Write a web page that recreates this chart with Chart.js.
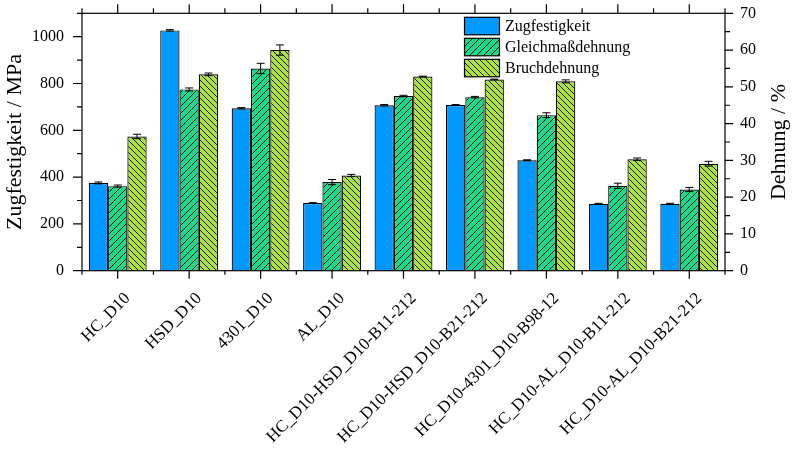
<!DOCTYPE html>
<html>
<head>
<meta charset="utf-8">
<script src="https://cdn.jsdelivr.net/npm/chart.js@4"></script>
<style>
  html, body { margin: 0; padding: 0; background: #fff; }
</style>
</head>
<body>
<canvas id="c" width="792" height="449"></canvas>
<script>
// Samples (x axis categories)
const categories = [
  'HC_D10', 'HSD_D10', '4301_D10', 'AL_D10',
  'HC_D10-HSD_D10-B11-212', 'HC_D10-HSD_D10-B21-212',
  'HC_D10-4301_D10-B98-12', 'HC_D10-AL_D10-B11-212', 'HC_D10-AL_D10-B21-212'
];

// Tensile strength in MPa (left axis) and its standard deviation
const zugfestigkeit = [375, 1027, 694, 289, 707, 708, 472, 286, 286];
const zugfestigkeitErr = [4, 3, 3, 2, 3, 2, 2, 2, 2];

// Uniform elongation in % (right axis)
const gleichmassdehnung = [23.0, 49.3, 55.0, 24.1, 47.5, 47.2, 42.3, 23.1, 22.1];
const gleichmassdehnungErr = [0.3, 0.4, 1.4, 0.7, 0.2, 0.2, 0.65, 0.7, 0.55];

// Elongation at break in % (right axis)
const bruchdehnung = [36.5, 53.4, 60.0, 25.9, 52.8, 52.0, 51.5, 30.3, 29.1];
const bruchdehnungErr = [0.6, 0.35, 1.4, 0.3, 0.1, 0.1, 0.4, 0.35, 0.65];

// Axis tick values
const leftTicks = [0, 200, 400, 600, 800, 1000];
const rightTicks = [0, 10, 20, 30, 40, 50, 60, 70];

const errorBars = [zugfestigkeitErr, gleichmassdehnungErr, bruchdehnungErr];

const FONT = "'Liberation Serif', 'Times New Roman', serif";
const canvas = document.getElementById('c');
const ctx = canvas.getContext('2d');

// Diagonal hatch fill: dir > 0 gives '/', otherwise '\'
function hatch(color, dir, period) {
  const c = document.createElement('canvas');
  c.width = period; c.height = period;
  const g = c.getContext('2d');
  g.fillStyle = color;
  g.fillRect(0, 0, period, period);
  g.strokeStyle = '#111';
  g.lineWidth = 1;
  g.beginPath();
  for (const o of [-period, 0, period]) {
    if (dir > 0) { g.moveTo(o, period); g.lineTo(o + period, 0); }
    else { g.moveTo(o, 0); g.lineTo(o + period, period); }
  }
  g.stroke();
  return ctx.createPattern(c, 'repeat');
}

const BLUE = '#0099FF';
const GREEN = hatch('#1BD98B', 1, 7);
const LIME = hatch('#AEE33A', -1, 6);

// Error bars on top of every bar
const errorBarPlugin = {
  id: 'errorBars',
  afterDatasetsDraw(chart) {
    const c = chart.ctx;
    c.save();
    c.strokeStyle = '#000';
    c.lineWidth = 1;
    chart.data.datasets.forEach((ds, di) => {
      const meta = chart.getDatasetMeta(di);
      const scale = chart.scales[ds.yAxisID];
      meta.data.forEach((bar, i) => {
        const v = ds.data[i], e = errorBars[di][i];
        const yHi = scale.getPixelForValue(v + e);
        const yLo = scale.getPixelForValue(v - e);
        const x = bar.x;
        c.beginPath();
        c.moveTo(x, yHi); c.lineTo(x, yLo);
        c.moveTo(x - 4, yHi); c.lineTo(x + 4, yHi);
        c.moveTo(x - 4, yLo); c.lineTo(x + 4, yLo);
        c.stroke();
      });
    });
    c.restore();
  }
};

// Closed frame with outward tick marks on all four sides, legend and right title
const framePlugin = {
  id: 'frame',
  afterDraw(chart) {
    const c = chart.ctx;
    const { left, right, top, bottom } = chart.chartArea;
    const { x, y, y1 } = chart.scales;
    c.save();
    c.strokeStyle = '#000';
    c.lineWidth = 1.2;
    c.strokeRect(left, top, right - left, bottom - top);
    c.beginPath();
    for (let v = y.min; v <= y.max; v += 100) {
      const py = y.getPixelForValue(v);
      const len = v % 200 === 0 ? 9 : 5;
      c.moveTo(left, py); c.lineTo(left - len, py);
    }
    for (let v = y1.min; v <= y1.max; v += 5) {
      const py = y1.getPixelForValue(v);
      const len = v % 10 === 0 ? 8 : 5;
      c.moveTo(right, py); c.lineTo(right + len, py);
    }
    for (let i = 0; i < categories.length; i++) {
      const px = x.getPixelForValue(i);
      c.moveTo(px, bottom); c.lineTo(px, bottom + 8);
      c.moveTo(px, top); c.lineTo(px, top - 9);
    }
    for (let i = 0; i <= categories.length; i++) {
      const px = x.getPixelForValue(i - 0.5);
      c.moveTo(px, bottom); c.lineTo(px, bottom + 4);
      c.moveTo(px, top); c.lineTo(px, top - 5);
    }
    c.stroke();

    // legend
    c.font = '16px ' + FONT;
    c.textBaseline = 'middle';
    c.textAlign = 'left';
    chart.data.datasets.forEach((ds, i) => {
      const ry = top + 4 + i * 21;
      c.fillStyle = ds.backgroundColor;
      c.fillRect(464.5, ry, 35, 17.5);
      c.strokeRect(464.5, ry, 35, 17.5);
      c.fillStyle = '#000';
      c.fillText(ds.label, 505, ry + 9);
    });

    // right axis title, reading bottom to top
    c.translate(779, (top + bottom) / 2);
    c.rotate(-Math.PI / 2);
    c.font = '22px ' + FONT;
    c.textAlign = 'center';
    c.fillStyle = '#000';
    c.fillText('Dehnung / %', 0, 0);
    c.restore();
  }
};

const barStyle = { borderColor: '#000', borderWidth: 1.2, barPercentage: 1, categoryPercentage: 0.81 };
const plain = v => String(v);

new Chart(ctx, {
  type: 'bar',
  data: {
    labels: categories,
    datasets: [
      Object.assign({ label: 'Zugfestigkeit', data: zugfestigkeit, yAxisID: 'y', backgroundColor: BLUE }, barStyle),
      Object.assign({ label: 'Gleichmaßdehnung', data: gleichmassdehnung, yAxisID: 'y1', backgroundColor: GREEN }, barStyle),
      Object.assign({ label: 'Bruchdehnung', data: bruchdehnung, yAxisID: 'y1', backgroundColor: LIME }, barStyle)
    ]
  },
  options: {
    responsive: false,
    animation: false,
    devicePixelRatio: 1,
    layout: { padding: { top: 13.3, left: 0, right: 0, bottom: 0 } },
    plugins: { legend: { display: false }, tooltip: { enabled: false } },
    scales: {
      x: {
        grid: { display: false, drawTicks: false },
        border: { display: false },
        ticks: {
          color: '#000', font: { family: FONT, size: 17 },
          minRotation: 45, maxRotation: 45, autoSkip: false, padding: 18, labelOffset: 10
        },
        afterFit(s) { s.height = 178.3; s.paddingLeft = 0; s.paddingRight = 0; }
      },
      y: {
        position: 'left',
        min: 0, max: 1100,
        grid: { display: false, drawTicks: false },
        border: { display: false },
        ticks: { color: '#000', font: { family: FONT, size: 16 }, padding: 18, callback: plain },
        afterBuildTicks(s) { s.ticks = leftTicks.map(v => ({ value: v })); },
        title: {
          display: true, text: 'Zugfestigkeit / MPa', color: '#000',
          font: { family: FONT, size: 22 }, padding: { top: 2, bottom: 0 }
        },
        afterFit(s) { s.width = 82; s.paddingTop = 0; s.paddingBottom = 0; }
      },
      y1: {
        position: 'right',
        min: 0, max: 70,
        grid: { display: false, drawTicks: false, drawOnChartArea: false },
        border: { display: false },
        ticks: { color: '#000', font: { family: FONT, size: 16 }, padding: 15, callback: plain },
        afterBuildTicks(s) { s.ticks = rightTicks.map(v => ({ value: v })); },
        afterFit(s) { s.width = 67; s.paddingTop = 0; s.paddingBottom = 0; }
      }
    }
  },
  plugins: [errorBarPlugin, framePlugin]
});
</script>
</body>
</html>
